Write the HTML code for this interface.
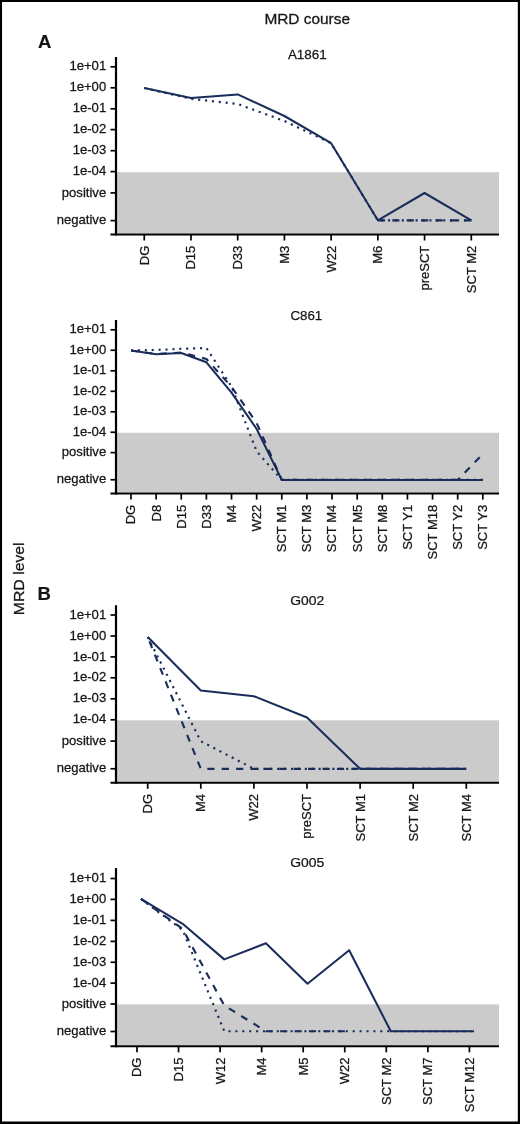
<!DOCTYPE html>
<html lang="en">
<head>
<meta charset="utf-8">
<title>MRD course</title>
<style>
html,body{margin:0;padding:0;background:#fff;}
body{width:520px;height:1124px;overflow:hidden;}
#fig{position:relative;width:520px;height:1124px;background:#fff;overflow:hidden;}
</style>
</head>
<body>
<div id="fig">
<svg width="520" height="1124" viewBox="0 0 520 1124" style="display:block;will-change:transform" stroke-linecap="butt" font-family='"Liberation Sans", Arial, Helvetica, sans-serif' fill="#151515">
<text x="307.2" y="24.2" font-size="15.5" text-anchor="middle" stroke="#151515" stroke-width="0.3" textLength="85.6" lengthAdjust="spacingAndGlyphs">MRD course</text>
<text transform="translate(24.3,578.8) rotate(-90) scale(1.02,1)" font-size="15.5" text-anchor="middle" stroke="#151515" stroke-width="0.3">MRD level</text>
<text x="37.9" y="47.7" font-size="18.5" font-weight="bold" stroke="#151515" stroke-width="0.2">A</text>
<text x="37.6" y="600" font-size="18.5" font-weight="bold" stroke="#151515" stroke-width="0.2">B</text>
<g>
<rect x="117.00" y="172.20" width="382.00" height="61.20" fill="#cbcbcb"/>
<g fill="none" stroke="#1a2d5a" stroke-width="2.05" stroke-linejoin="round">
<polyline points="144.25,88.00 190.97,98.80 237.69,104.00 284.41,121.00 331.13,143.20 377.85,220.30 424.57,220.30 471.29,220.30" stroke-dasharray="2.1 4.8" stroke-width="2.15"/>
<polyline points="377.85,220.30 424.57,220.30 471.29,220.30" stroke-dasharray="7.2 7.2" stroke-width="2.15" stroke-dashoffset="0.00"/>
<polyline points="144.25,88.00 190.97,98.00 237.69,94.40 284.41,116.00 331.13,143.20 377.85,220.30 424.57,193.00 471.29,220.30"/>
</g>
<g stroke="#000" fill="none">
<line x1="116.00" y1="57.00" x2="116.00" y2="235.40" stroke-width="2.2"/>
<line x1="110.50" y1="234.40" x2="499.00" y2="234.40" stroke-width="2"/>
<line x1="110.5" y1="66.80" x2="116.00" y2="66.80" stroke-width="1.7"/>
<line x1="110.5" y1="87.80" x2="116.00" y2="87.80" stroke-width="1.7"/>
<line x1="110.5" y1="108.80" x2="116.00" y2="108.80" stroke-width="1.7"/>
<line x1="110.5" y1="129.60" x2="116.00" y2="129.60" stroke-width="1.7"/>
<line x1="110.5" y1="150.70" x2="116.00" y2="150.70" stroke-width="1.7"/>
<line x1="110.5" y1="171.60" x2="116.00" y2="171.60" stroke-width="1.7"/>
<line x1="110.5" y1="192.90" x2="116.00" y2="192.90" stroke-width="1.7"/>
<line x1="110.5" y1="220.60" x2="116.00" y2="220.60" stroke-width="1.7"/>
<line x1="144.25" y1="234.40" x2="144.25" y2="240.50" stroke-width="1.7"/>
<line x1="190.97" y1="234.40" x2="190.97" y2="240.50" stroke-width="1.7"/>
<line x1="237.69" y1="234.40" x2="237.69" y2="240.50" stroke-width="1.7"/>
<line x1="284.41" y1="234.40" x2="284.41" y2="240.50" stroke-width="1.7"/>
<line x1="331.13" y1="234.40" x2="331.13" y2="240.50" stroke-width="1.7"/>
<line x1="377.85" y1="234.40" x2="377.85" y2="240.50" stroke-width="1.7"/>
<line x1="424.57" y1="234.40" x2="424.57" y2="240.50" stroke-width="1.7"/>
<line x1="471.29" y1="234.40" x2="471.29" y2="240.50" stroke-width="1.7"/>
</g>
<g font-size="12.5" text-anchor="end" stroke="#151515" stroke-width="0.25">
<text transform="translate(106.2,70.45) scale(1.050,1)">1e+01</text>
<text transform="translate(106.2,91.45) scale(1.050,1)">1e+00</text>
<text transform="translate(106.2,112.45) scale(1.050,1)">1e-01</text>
<text transform="translate(106.2,133.25) scale(1.050,1)">1e-02</text>
<text transform="translate(106.2,154.35) scale(1.050,1)">1e-03</text>
<text transform="translate(106.2,175.25) scale(1.050,1)">1e-04</text>
<text transform="translate(106.2,196.55) scale(1.050,1)">positive</text>
<text transform="translate(106.2,224.25) scale(1.050,1)">negative</text>
</g>
<g font-size="12.5" text-anchor="end" stroke="#151515" stroke-width="0.25">
<text transform="translate(148.65,245.70) rotate(-90) scale(1.040,1)">DG</text>
<text transform="translate(195.37,245.70) rotate(-90) scale(1.040,1)">D15</text>
<text transform="translate(242.09,245.70) rotate(-90) scale(1.040,1)">D33</text>
<text transform="translate(288.81,245.70) rotate(-90) scale(1.040,1)">M3</text>
<text transform="translate(335.53,245.70) rotate(-90) scale(1.040,1)">W22</text>
<text transform="translate(382.25,245.70) rotate(-90) scale(1.040,1)">M6</text>
<text transform="translate(428.97,245.70) rotate(-90) scale(1.040,1)">preSCT</text>
<text transform="translate(475.69,245.70) rotate(-90) scale(1.040,1)">SCT M2</text>
</g>
<text transform="translate(307.30,59.00) scale(1.010,1)" font-size="13.3" text-anchor="middle" stroke="#151515" stroke-width="0.25">A1861</text>
</g>
<g>
<rect x="117.00" y="432.80" width="382.00" height="59.70" fill="#cbcbcb"/>
<g fill="none" stroke="#1a2d5a" stroke-width="2.05" stroke-linejoin="round">
<polyline points="131.00,350.50 156.13,350.00 181.26,348.80 206.39,348.00 231.52,386.50 256.65,451.30 281.78,479.90 306.91,479.90 332.04,479.90 357.17,479.90 382.30,479.90 407.43,479.90 432.56,479.90 457.69,479.90 482.82,479.90" stroke-dasharray="2.1 4.8" stroke-width="2.15"/>
<polyline points="131.00,350.50 156.13,354.00 181.26,352.60 206.39,359.00 231.52,386.80 256.65,423.00 281.78,479.90 306.91,479.90 332.04,479.90 357.17,479.90 382.30,479.90 407.43,479.90 432.56,479.90 457.69,479.90" stroke-dasharray="7.2 7.2" stroke-width="2.15" stroke-dashoffset="0.00"/>
<polyline points="457.69,479.90 482.82,454.00" stroke-dasharray="7.2 7.2" stroke-width="2.15" stroke-dashoffset="4.3"/>
<polyline points="131.00,350.50 156.13,354.25 181.26,353.00 206.39,362.30 231.52,392.70 256.65,429.00 281.78,479.90 306.91,479.90 332.04,479.90 357.17,479.90 382.30,479.90 407.43,479.90 432.56,479.90 457.69,479.90 482.82,479.90"/>
</g>
<g stroke="#000" fill="none">
<line x1="116.00" y1="320.00" x2="116.00" y2="494.50" stroke-width="2.2"/>
<line x1="110.50" y1="493.50" x2="499.00" y2="493.50" stroke-width="2"/>
<line x1="110.5" y1="329.80" x2="116.00" y2="329.80" stroke-width="1.7"/>
<line x1="110.5" y1="350.25" x2="116.00" y2="350.25" stroke-width="1.7"/>
<line x1="110.5" y1="370.80" x2="116.00" y2="370.80" stroke-width="1.7"/>
<line x1="110.5" y1="391.30" x2="116.00" y2="391.30" stroke-width="1.7"/>
<line x1="110.5" y1="411.80" x2="116.00" y2="411.80" stroke-width="1.7"/>
<line x1="110.5" y1="432.25" x2="116.00" y2="432.25" stroke-width="1.7"/>
<line x1="110.5" y1="452.60" x2="116.00" y2="452.60" stroke-width="1.7"/>
<line x1="110.5" y1="479.75" x2="116.00" y2="479.75" stroke-width="1.7"/>
<line x1="131.00" y1="493.50" x2="131.00" y2="499.60" stroke-width="1.7"/>
<line x1="156.13" y1="493.50" x2="156.13" y2="499.60" stroke-width="1.7"/>
<line x1="181.26" y1="493.50" x2="181.26" y2="499.60" stroke-width="1.7"/>
<line x1="206.39" y1="493.50" x2="206.39" y2="499.60" stroke-width="1.7"/>
<line x1="231.52" y1="493.50" x2="231.52" y2="499.60" stroke-width="1.7"/>
<line x1="256.65" y1="493.50" x2="256.65" y2="499.60" stroke-width="1.7"/>
<line x1="281.78" y1="493.50" x2="281.78" y2="499.60" stroke-width="1.7"/>
<line x1="306.91" y1="493.50" x2="306.91" y2="499.60" stroke-width="1.7"/>
<line x1="332.04" y1="493.50" x2="332.04" y2="499.60" stroke-width="1.7"/>
<line x1="357.17" y1="493.50" x2="357.17" y2="499.60" stroke-width="1.7"/>
<line x1="382.30" y1="493.50" x2="382.30" y2="499.60" stroke-width="1.7"/>
<line x1="407.43" y1="493.50" x2="407.43" y2="499.60" stroke-width="1.7"/>
<line x1="432.56" y1="493.50" x2="432.56" y2="499.60" stroke-width="1.7"/>
<line x1="457.69" y1="493.50" x2="457.69" y2="499.60" stroke-width="1.7"/>
<line x1="482.82" y1="493.50" x2="482.82" y2="499.60" stroke-width="1.7"/>
</g>
<g font-size="12.5" text-anchor="end" stroke="#151515" stroke-width="0.25">
<text transform="translate(106.2,333.45) scale(1.050,1)">1e+01</text>
<text transform="translate(106.2,353.90) scale(1.050,1)">1e+00</text>
<text transform="translate(106.2,374.45) scale(1.050,1)">1e-01</text>
<text transform="translate(106.2,394.95) scale(1.050,1)">1e-02</text>
<text transform="translate(106.2,415.45) scale(1.050,1)">1e-03</text>
<text transform="translate(106.2,435.90) scale(1.050,1)">1e-04</text>
<text transform="translate(106.2,456.25) scale(1.050,1)">positive</text>
<text transform="translate(106.2,483.40) scale(1.050,1)">negative</text>
</g>
<g font-size="12.5" text-anchor="end" stroke="#151515" stroke-width="0.25">
<text transform="translate(135.40,504.80) rotate(-90) scale(1.040,1)">DG</text>
<text transform="translate(160.53,504.80) rotate(-90) scale(1.040,1)">D8</text>
<text transform="translate(185.66,504.80) rotate(-90) scale(1.040,1)">D15</text>
<text transform="translate(210.79,504.80) rotate(-90) scale(1.040,1)">D33</text>
<text transform="translate(235.92,504.80) rotate(-90) scale(1.040,1)">M4</text>
<text transform="translate(261.05,504.80) rotate(-90) scale(1.040,1)">W22</text>
<text transform="translate(286.18,504.80) rotate(-90) scale(1.040,1)">SCT M1</text>
<text transform="translate(311.31,504.80) rotate(-90) scale(1.040,1)">SCT M3</text>
<text transform="translate(336.44,504.80) rotate(-90) scale(1.040,1)">SCT M4</text>
<text transform="translate(361.57,504.80) rotate(-90) scale(1.040,1)">SCT M5</text>
<text transform="translate(386.70,504.80) rotate(-90) scale(1.040,1)">SCT M8</text>
<text transform="translate(411.83,504.80) rotate(-90) scale(1.040,1)">SCT Y1</text>
<text transform="translate(436.96,504.80) rotate(-90) scale(1.040,1)">SCT M18</text>
<text transform="translate(462.09,504.80) rotate(-90) scale(1.040,1)">SCT Y2</text>
<text transform="translate(487.22,504.80) rotate(-90) scale(1.040,1)">SCT Y3</text>
</g>
<text transform="translate(306.30,319.60) scale(1.000,1)" font-size="13.3" text-anchor="middle" stroke="#151515" stroke-width="0.25">C861</text>
</g>
<g>
<rect x="117.00" y="720.30" width="382.00" height="61.40" fill="#cbcbcb"/>
<g fill="none" stroke="#1a2d5a" stroke-width="2.05" stroke-linejoin="round">
<polyline points="147.70,637.00 200.80,741.20 253.90,768.85 307.00,768.85 360.10,768.85 413.20,768.85 466.30,768.85" stroke-dasharray="2.1 4.8" stroke-width="2.15"/>
<polyline points="147.70,637.00 200.80,768.85 253.90,768.85 307.00,768.85 360.10,768.85 413.20,768.85 466.30,768.85" stroke-dasharray="7.2 7.2" stroke-width="2.15" stroke-dashoffset="9.75"/>
<polyline points="147.70,637.00 200.80,690.50 253.90,696.20 307.00,717.50 360.10,768.85 413.20,768.85 466.30,768.85"/>
</g>
<g stroke="#000" fill="none">
<line x1="116.00" y1="605.25" x2="116.00" y2="783.70" stroke-width="2.2"/>
<line x1="110.50" y1="782.70" x2="499.00" y2="782.70" stroke-width="2"/>
<line x1="110.5" y1="615.00" x2="116.00" y2="615.00" stroke-width="1.7"/>
<line x1="110.5" y1="636.00" x2="116.00" y2="636.00" stroke-width="1.7"/>
<line x1="110.5" y1="656.90" x2="116.00" y2="656.90" stroke-width="1.7"/>
<line x1="110.5" y1="677.80" x2="116.00" y2="677.80" stroke-width="1.7"/>
<line x1="110.5" y1="698.80" x2="116.00" y2="698.80" stroke-width="1.7"/>
<line x1="110.5" y1="719.80" x2="116.00" y2="719.80" stroke-width="1.7"/>
<line x1="110.5" y1="741.10" x2="116.00" y2="741.10" stroke-width="1.7"/>
<line x1="110.5" y1="768.75" x2="116.00" y2="768.75" stroke-width="1.7"/>
<line x1="147.70" y1="782.70" x2="147.70" y2="788.80" stroke-width="1.7"/>
<line x1="200.80" y1="782.70" x2="200.80" y2="788.80" stroke-width="1.7"/>
<line x1="253.90" y1="782.70" x2="253.90" y2="788.80" stroke-width="1.7"/>
<line x1="307.00" y1="782.70" x2="307.00" y2="788.80" stroke-width="1.7"/>
<line x1="360.10" y1="782.70" x2="360.10" y2="788.80" stroke-width="1.7"/>
<line x1="413.20" y1="782.70" x2="413.20" y2="788.80" stroke-width="1.7"/>
<line x1="466.30" y1="782.70" x2="466.30" y2="788.80" stroke-width="1.7"/>
</g>
<g font-size="12.5" text-anchor="end" stroke="#151515" stroke-width="0.25">
<text transform="translate(106.2,618.65) scale(1.050,1)">1e+01</text>
<text transform="translate(106.2,639.65) scale(1.050,1)">1e+00</text>
<text transform="translate(106.2,660.55) scale(1.050,1)">1e-01</text>
<text transform="translate(106.2,681.45) scale(1.050,1)">1e-02</text>
<text transform="translate(106.2,702.45) scale(1.050,1)">1e-03</text>
<text transform="translate(106.2,723.45) scale(1.050,1)">1e-04</text>
<text transform="translate(106.2,744.75) scale(1.050,1)">positive</text>
<text transform="translate(106.2,772.40) scale(1.050,1)">negative</text>
</g>
<g font-size="12.5" text-anchor="end" stroke="#151515" stroke-width="0.25">
<text transform="translate(152.10,794.00) rotate(-90) scale(1.040,1)">DG</text>
<text transform="translate(205.20,794.00) rotate(-90) scale(1.040,1)">M4</text>
<text transform="translate(258.30,794.00) rotate(-90) scale(1.040,1)">W22</text>
<text transform="translate(311.40,794.00) rotate(-90) scale(1.040,1)">preSCT</text>
<text transform="translate(364.50,794.00) rotate(-90) scale(1.040,1)">SCT M1</text>
<text transform="translate(417.60,794.00) rotate(-90) scale(1.040,1)">SCT M2</text>
<text transform="translate(470.70,794.00) rotate(-90) scale(1.040,1)">SCT M4</text>
</g>
<text transform="translate(307.30,604.70) scale(1.045,1)" font-size="13.3" text-anchor="middle" stroke="#151515" stroke-width="0.25">G002</text>
</g>
<g>
<rect x="117.00" y="1004.40" width="382.00" height="40.85" fill="#cbcbcb"/>
<g fill="none" stroke="#1a2d5a" stroke-width="2.05" stroke-linejoin="round">
<polyline points="141.00,898.90 182.63,930.00 224.26,1031.20 265.89,1031.20 307.52,1031.20 349.15,1031.20 390.78,1031.20 432.41,1031.20 474.04,1031.20" stroke-dasharray="2.1 4.8" stroke-width="2.15"/>
<polyline points="141.00,898.90 182.63,929.00 224.26,1005.50 265.89,1031.20 307.52,1031.20 349.15,1031.20" stroke-dasharray="7.2 7.2" stroke-width="2.15" stroke-dashoffset="0.00"/>
<polyline points="141.00,898.90 182.63,923.80 224.26,959.40 265.89,943.20 307.52,983.70 349.15,950.20 390.78,1031.20 432.41,1031.20 474.04,1031.20"/>
</g>
<g stroke="#000" fill="none">
<line x1="116.00" y1="868.10" x2="116.00" y2="1047.25" stroke-width="2.2"/>
<line x1="110.50" y1="1046.25" x2="499.00" y2="1046.25" stroke-width="2"/>
<line x1="110.5" y1="878.50" x2="116.00" y2="878.50" stroke-width="1.7"/>
<line x1="110.5" y1="899.40" x2="116.00" y2="899.40" stroke-width="1.7"/>
<line x1="110.5" y1="920.40" x2="116.00" y2="920.40" stroke-width="1.7"/>
<line x1="110.5" y1="941.40" x2="116.00" y2="941.40" stroke-width="1.7"/>
<line x1="110.5" y1="962.25" x2="116.00" y2="962.25" stroke-width="1.7"/>
<line x1="110.5" y1="983.10" x2="116.00" y2="983.10" stroke-width="1.7"/>
<line x1="110.5" y1="1004.00" x2="116.00" y2="1004.00" stroke-width="1.7"/>
<line x1="110.5" y1="1031.50" x2="116.00" y2="1031.50" stroke-width="1.7"/>
<line x1="137.00" y1="1046.25" x2="137.00" y2="1052.35" stroke-width="1.7"/>
<line x1="178.55" y1="1046.25" x2="178.55" y2="1052.35" stroke-width="1.7"/>
<line x1="220.10" y1="1046.25" x2="220.10" y2="1052.35" stroke-width="1.7"/>
<line x1="261.65" y1="1046.25" x2="261.65" y2="1052.35" stroke-width="1.7"/>
<line x1="303.20" y1="1046.25" x2="303.20" y2="1052.35" stroke-width="1.7"/>
<line x1="344.75" y1="1046.25" x2="344.75" y2="1052.35" stroke-width="1.7"/>
<line x1="386.30" y1="1046.25" x2="386.30" y2="1052.35" stroke-width="1.7"/>
<line x1="427.85" y1="1046.25" x2="427.85" y2="1052.35" stroke-width="1.7"/>
<line x1="469.40" y1="1046.25" x2="469.40" y2="1052.35" stroke-width="1.7"/>
</g>
<g font-size="12.5" text-anchor="end" stroke="#151515" stroke-width="0.25">
<text transform="translate(106.2,882.15) scale(1.050,1)">1e+01</text>
<text transform="translate(106.2,903.05) scale(1.050,1)">1e+00</text>
<text transform="translate(106.2,924.05) scale(1.050,1)">1e-01</text>
<text transform="translate(106.2,945.05) scale(1.050,1)">1e-02</text>
<text transform="translate(106.2,965.90) scale(1.050,1)">1e-03</text>
<text transform="translate(106.2,986.75) scale(1.050,1)">1e-04</text>
<text transform="translate(106.2,1007.65) scale(1.050,1)">positive</text>
<text transform="translate(106.2,1035.15) scale(1.050,1)">negative</text>
</g>
<g font-size="12.5" text-anchor="end" stroke="#151515" stroke-width="0.25">
<text transform="translate(141.40,1057.55) rotate(-90) scale(1.040,1)">DG</text>
<text transform="translate(182.95,1057.55) rotate(-90) scale(1.040,1)">D15</text>
<text transform="translate(224.50,1057.55) rotate(-90) scale(1.040,1)">W12</text>
<text transform="translate(266.05,1057.55) rotate(-90) scale(1.040,1)">M4</text>
<text transform="translate(307.60,1057.55) rotate(-90) scale(1.040,1)">M5</text>
<text transform="translate(349.15,1057.55) rotate(-90) scale(1.040,1)">W22</text>
<text transform="translate(390.70,1057.55) rotate(-90) scale(1.040,1)">SCT M2</text>
<text transform="translate(432.25,1057.55) rotate(-90) scale(1.040,1)">SCT M7</text>
<text transform="translate(473.80,1057.55) rotate(-90) scale(1.040,1)">SCT M12</text>
</g>
<text transform="translate(307.30,867.30) scale(1.045,1)" font-size="13.3" text-anchor="middle" stroke="#151515" stroke-width="0.25">G005</text>
</g>
<path d="M0 0H520V1124H0Z M2.05 2.05V1121.55H517.8V2.05Z" fill="#000" fill-rule="evenodd"/>
</svg>
</div>
</body>
</html>
